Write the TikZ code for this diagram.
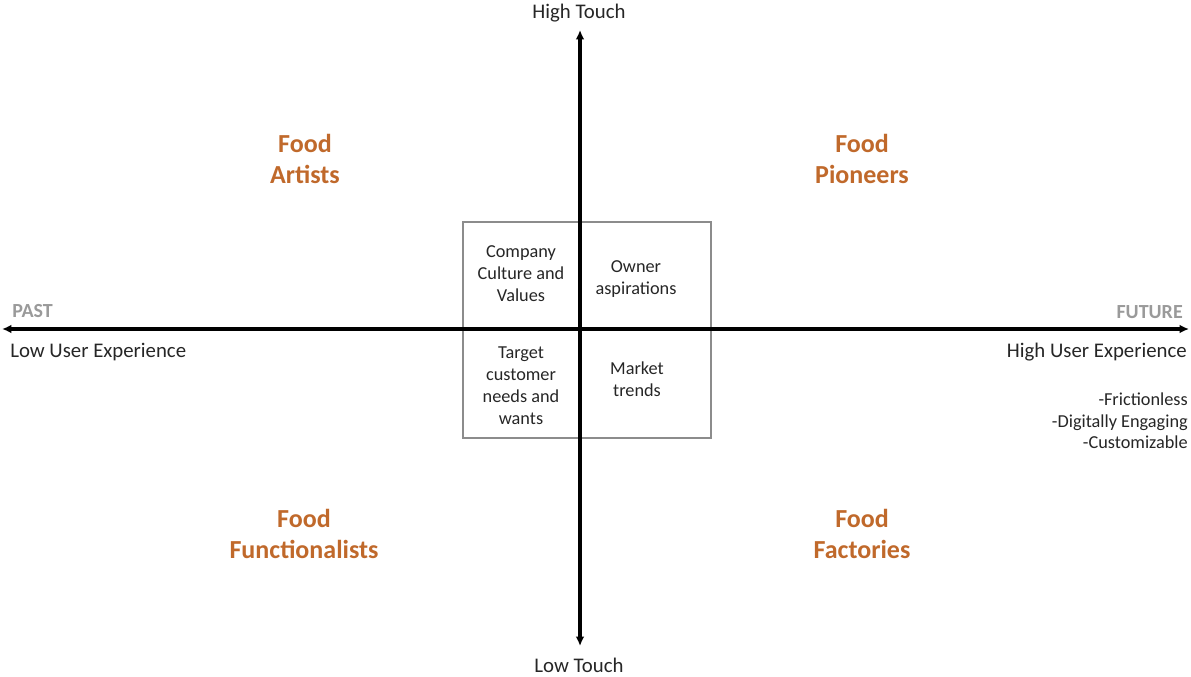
\documentclass[tikz,border=0pt]{standalone}
\usepackage{fontspec}
\setmainfont{Carlito}
\usetikzlibrary{arrows.meta}
\definecolor{foodorange}{HTML}{C0692B}
\definecolor{axisgray}{HTML}{9A9A9A}
\definecolor{boxgray}{HTML}{8C8C8C}
\begin{document}
\begin{tikzpicture}[x=0.75pt,y=-0.75pt,
  axis/.style={line width=2.5pt},
  food/.style={font=\fontsize{19.5}{23.5}\selectfont\bfseries,text=foodorange,align=center,inner sep=0pt},
  inbox/.style={font=\fontsize{13.7}{16.5}\selectfont,text=black!85,align=center,inner sep=0pt},
  lbl/.style={font=\fontsize{15.6}{18}\selectfont,text=black!85,inner sep=0pt},
  era/.style={font=\fontsize{15}{17}\selectfont\bfseries,text=axisgray,inner sep=0pt},
  traits/.style={font=\fontsize{13.7}{16}\selectfont,text=black!85,align=right,inner sep=0pt}]
\useasboundingbox (0,0) rectangle (1191,677);
% centre box
\node[draw=boxgray,line width=0.8pt,minimum width=186pt,minimum height=162pt,inner sep=0pt] (box) at (587,330) {};
% axis end points
\coordinate (xl) at (2,329);
\coordinate (xr) at (1189,329);
\coordinate (yt) at (580,30);
\coordinate (yb) at (580,646);
\draw[axis,{Latex[length=7pt,width=6.5pt]}-{Latex[length=7pt,width=6.5pt]}] (xl) -- (xr);
\draw[axis,{Latex[length=7pt,width=6.5pt]}-{Latex[length=7pt,width=6.5pt]}] (yt) -- (yb);
% axis labels
\node[lbl] (ht) at (579,13) {High Touch};
\node[lbl] (lt) at (579,665) {Low Touch};
\node[era,anchor=west] (past) at (12,311) {PAST};
\node[era,anchor=east] (future) at (1183,312) {FUTURE};
\node[lbl,anchor=west] (lux) at (10,352) {Low User Experience};
\node[lbl,anchor=east] (hux) at (1187,352) {High User Experience};
\node[traits,anchor=north east] (tr) at (1188,393) {-Frictionless\\-Digitally Engaging\\-Customizable};
% quadrants
\node[food] (fa) at (305,159) {Food\\Artists};
\node[food] (fp) at (862,159) {Food\\Pioneers};
\node[food] (ff) at (304,534) {Food\\Functionalists};
\node[food] (fc) at (862,534) {Food\\Factories};
% box contents
\node[inbox] (cc) at (521,274) {Company\\Culture and\\Values};
\node[inbox] (oa) at (636,279) {Owner\\aspirations};
\node[inbox] (tc) at (521,386) {Target\\customer\\needs and\\wants};
\node[inbox] (mt) at (637,379) {Market\\trends};
\end{tikzpicture}
\end{document}
